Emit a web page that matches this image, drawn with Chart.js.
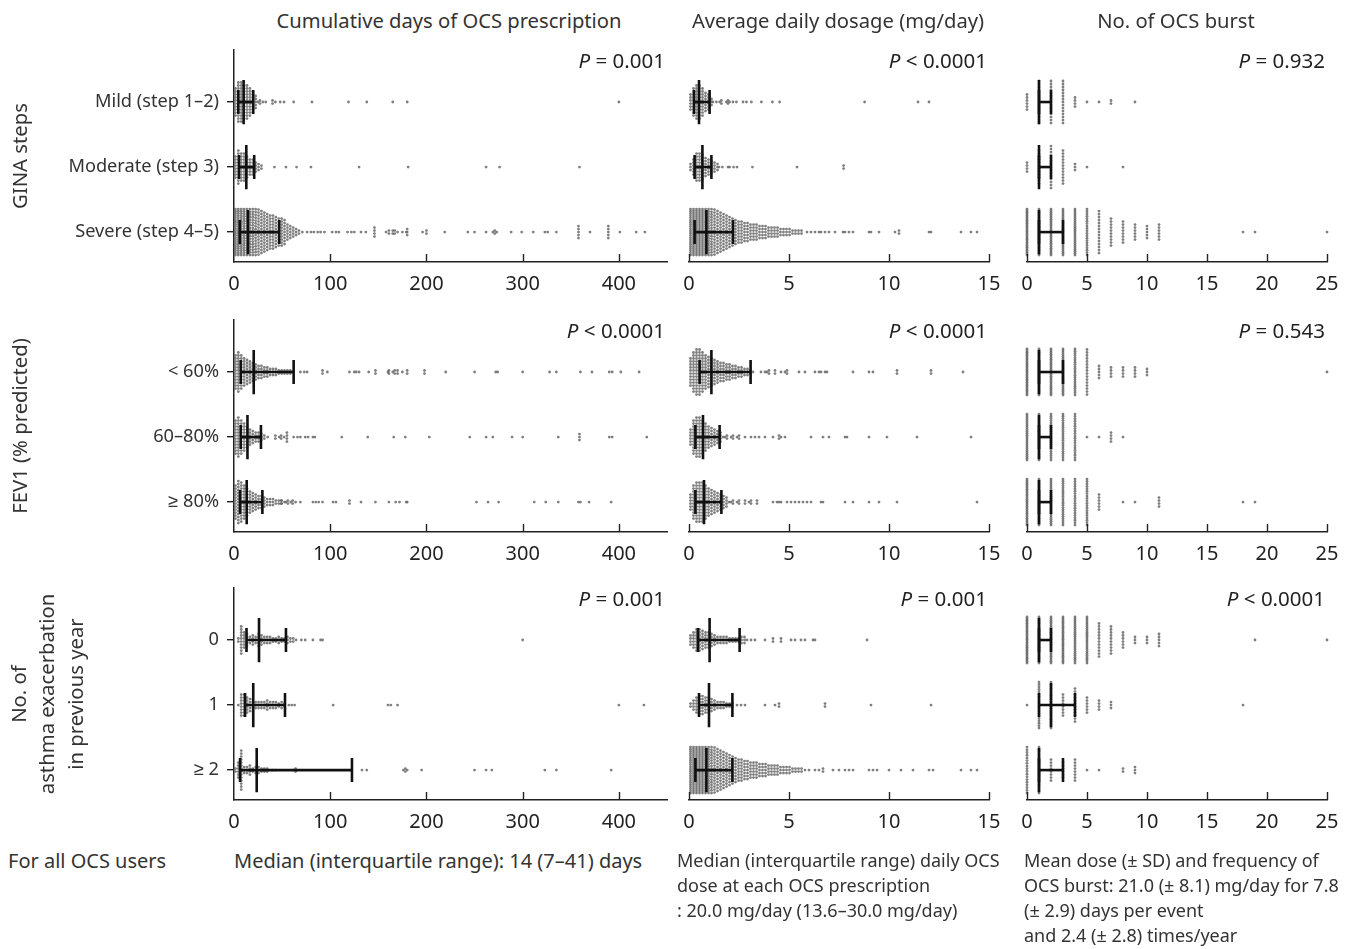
<!DOCTYPE html>
<html>
<head>
<meta charset="utf-8">
<script src="https://cdn.jsdelivr.net/npm/chart.js@4.4.0/dist/chart.umd.min.js"></script>
<style>
  body { margin: 0; background: #fff; }
  #page { position: relative; width: 1353px; height: 949px; overflow: hidden; font-family: "Noto Sans", sans-serif; color: #333; }
  #page canvas { position: absolute; }
  .txt { position: absolute; white-space: nowrap; }
  .ctitle { font-size: 20.2px; top: 6px; transform: translateX(-50%); }
  .foot { line-height: 25px; top: 848px; }
</style>
</head>
<body>
<div id="page"></div>
<script>
// labels
const rowNames = [
  ['Mild (step 1–2)', 'Moderate (step 3)', 'Severe (step 4–5)'],
  ['< 60%', '60–80%', '≥ 80%'],
  ['0', '1', '≥ 2']
];
const rowTitles = ['GINA steps', 'FEV1 (% predicted)', ['No. of', 'asthma exacerbation', 'in previous year']];
const colTitles = ['Cumulative days of OCS prescription', 'Average daily dosage (mg/day)', 'No. of OCS burst'];
const pValues = [
  ['= 0.001', '< 0.0001', '= 0.932'],
  ['< 0.0001', '< 0.0001', '= 0.543'],
  ['= 0.001', '= 0.001', '< 0.0001']
];
const dayTicks = [0, 100, 200, 300, 400];
const doseTicks = [0, 5, 10, 15];
const burstTicks = [0, 5, 10, 15, 20, 25];

// cumulative days: core = counts per 3-day bin from 0, tail = single patients
const ginaDaysCore = [
  [10, 14, 14, 12, 12, 10, 8, 5],
  [8, 12, 10, 10, 8, 6, 6, 4, 3, 2],
  [22, 22, 22, 20, 20, 18, 18, 17, 16, 15, 14, 13, 12, 12, 11, 10, 10, 9, 6, 5, 4, 3, 2]
];
const ginaDaysTail = [
  [25, 27, 28, 30, 33, 40, 41, 43, 48, 52, 62, 81, 119, 138, 165, 180, 400],
  [42, 54, 65, 80, 130, 181, 262, 276, 359],
  [71, 76, 80, 83, 87, 90, 94, 102, 106, 109, 118, 122, 125, 132, 137, 146, 146, 146, 148, 158, 161, 163, 165, 165, 167, 168, 170, 175, 179, 180, 180, 182, 196, 200, 201, 219, 243, 250, 262, 269, 271, 271, 273, 288, 299, 311, 323, 326, 335, 358, 358, 358, 358, 358, 370, 389, 389, 389, 389, 389, 401, 418, 427]
];
const ginaDaysStats = [[4.5, 10, 20], [5.2, 12.8, 21], [6, 14.5, 47]];

const fevDaysCore = [
  [12, 14, 12, 10, 9, 8, 7, 6, 5, 5, 4, 4, 3, 3, 3, 2, 2, 2, 2, 2, 1],
  [12, 14, 12, 10, 8, 6, 5, 4, 4, 3, 2],
  [12, 15, 14, 12, 10, 8, 7, 6, 5, 5, 4, 3, 3, 3, 2, 2, 2, 1]
];
const fevDaysTail = [
  [69, 73, 76, 92, 95, 97, 120, 125, 127, 130, 140, 147, 148, 160, 161, 163, 165, 167, 168, 170, 172, 175, 180, 182, 198, 200, 220, 250, 272, 274, 300, 328, 335, 360, 372, 390, 393, 402, 421],
  [35, 43, 45, 47, 49, 50, 52, 55, 55, 55, 55, 62, 66, 69, 74, 77, 82, 84, 112, 139, 166, 178, 203, 245, 262, 269, 289, 300, 337, 359, 359, 359, 390, 393, 429],
  [49, 50, 54, 56, 57, 59, 61, 62, 64, 69, 82, 85, 88, 92, 103, 106, 120, 123, 132, 147, 161, 168, 172, 179, 180, 252, 264, 275, 312, 324, 337, 358, 360, 369, 392]
];
const fevDaysStats = [[7, 20.5, 62], [7, 14, 28], [6.3, 13.2, 29.5]];

const exacDaysCore = [
  [0, 2, 10, 6, 5, 3, 4, 3, 5, 4, 3, 3, 3, 2, 2, 3, 2, 2, 3, 2, 2, 1],
  [0, 1, 8, 8, 6, 5, 5, 3, 3, 3, 3, 4, 3, 3, 3, 2, 3, 2],
  [2, 6, 14, 3, 3, 4, 2, 3, 3, 2, 2, 2]
];
const exacDaysTail = [
  [70, 74, 82, 90, 92, 300],
  [57, 60, 63, 103, 160, 163, 170, 400, 426],
  [40, 43, 62, 64, 66, 133, 138, 176, 178, 178, 180, 195, 250, 262, 268, 323, 335, 392]
];
const exacDaysStats = [[13, 26, 54], [11.5, 20, 53], [6.3, 23.6, 122.6]];

// daily dose: core = counts per 0.15 mg/day bin from 0
const ginaDoseCore = [
  [6, 10, 12, 12, 10, 7, 6, 3],
  [3, 6, 10, 10, 9, 7, 6, 5, 4, 3],
  [22, 24, 24, 24, 24, 22, 20, 18, 16, 15, 14, 13, 12, 11, 10, 9, 8, 8, 7, 7, 6, 6, 6, 5, 5, 5, 4, 4, 4, 4, 3, 3, 3, 3, 2, 2, 2, 2]
];
const ginaDoseTail = [
  [1.2, 1.37, 1.53, 1.62, 1.7, 1.87, 1.95, 1.95, 2.03, 2.2, 2.37, 2.7, 2.87, 3.12, 3.62, 4.17, 4.53, 8.78, 11.45, 12.0],
  [1.5, 1.67, 1.95, 2.03, 2.23, 2.4, 3.17, 5.4, 7.73, 7.73],
  [5.9, 6.1, 6.3, 6.5, 6.6, 6.8, 7.0, 7.3, 7.7, 7.8, 8.0, 8.2, 9.0, 9.1, 9.5, 10.3, 10.5, 10.5, 12.0, 12.1, 13.6, 14.1, 14.4]
];
const ginaDoseStats = [[0.25, 0.5, 1.03], [0.28, 0.67, 1.12], [0.28, 0.87, 2.2]];

const fevDoseCore = [
  [10, 14, 16, 16, 14, 12, 11, 10, 9, 8, 7, 7, 6, 6, 5, 5, 4, 4, 3, 3, 2],
  [6, 12, 14, 14, 12, 10, 8, 7, 6, 5, 4],
  [6, 12, 14, 14, 14, 12, 10, 9, 8, 7, 6, 5, 4]
];
const fevDoseTail = [
  [3.2, 3.6, 3.8, 3.9, 4.0, 4.1, 4.3, 4.4, 4.6, 4.8, 4.9, 5.0, 5.5, 5.8, 6.3, 6.5, 6.6, 6.8, 6.9, 8.2, 9.0, 9.2, 10.4, 10.4, 12.1, 12.2, 13.7],
  [1.7, 1.8, 1.9, 2.0, 2.1, 2.2, 2.3, 2.4, 2.5, 2.6, 2.8, 3.1, 3.3, 3.5, 3.8, 4.2, 4.5, 4.5, 4.6, 4.8, 6.1, 6.7, 7.0, 7.8, 7.9, 9.0, 9.9, 11.4, 14.1],
  [2.0, 2.1, 2.2, 2.3, 2.4, 2.5, 2.6, 2.8, 2.9, 3.0, 3.1, 3.2, 3.4, 3.5, 4.2, 4.4, 4.5, 4.6, 4.9, 5.1, 5.3, 5.5, 5.7, 5.9, 6.1, 6.6, 6.7, 7.8, 8.2, 9.0, 9.5, 10.4, 14.4]
];
const fevDoseStats = [[0.53, 1.12, 3.08], [0.32, 0.7, 1.53], [0.32, 0.75, 1.62]];

const exacDoseCore = [
  [4, 6, 8, 8, 7, 6, 6, 5, 4, 3, 3, 3, 3, 2, 2, 2, 2, 3, 3],
  [2, 4, 6, 7, 7, 6, 6, 5, 4, 3, 3, 3, 2, 2, 2],
  [22, 24, 24, 24, 24, 22, 20, 18, 16, 15, 14, 13, 12, 11, 10, 9, 8, 8, 7, 7, 6, 6, 6, 5, 5, 5, 4, 4, 4, 4, 3, 3, 3, 3, 2, 2, 2, 2]
];
const exacDoseTail = [
  [2.9, 3.1, 3.3, 3.8, 4.2, 4.2, 4.6, 4.6, 5.1, 5.3, 5.6, 5.8, 6.2, 6.3, 8.9],
  [2.4, 2.6, 2.8, 3.8, 4.3, 4.5, 4.5, 6.8, 6.8, 9.1, 12.1],
  [5.8, 6.0, 6.3, 6.5, 6.7, 6.8, 7.2, 7.5, 7.8, 8.0, 8.2, 9.0, 9.2, 9.4, 10.0, 10.6, 11.2, 12.0, 12.2, 13.6, 14.1, 14.4]
];
const exacDoseStats = [[0.45, 1.03, 2.53], [0.5, 1.0, 2.17], [0.32, 0.87, 2.17]];

// OCS bursts: patients per number of bursts (index = bursts)
const ginaBurstCounts = [
  [6, 15, 15, 15, 4, 1, 1, 2, 0, 1],
  [4, 12, 15, 12, 3, 1, 0, 0, 1],
  [30, 30, 28, 26, 25, 20, 15, 10, 8, 6, 5, 6, 0, 0, 0, 0, 0, 0, 1, 1, 0, 0, 0, 0, 0, 1]
];
const ginaBurstStats = [[1, 1, 2], [1, 1, 2], [1, 1, 3]];
const fevBurstCounts = [
  [30, 30, 28, 26, 22, 16, 5, 4, 4, 4, 3, 0, 0, 0, 0, 0, 0, 0, 0, 0, 0, 0, 0, 0, 0, 1],
  [25, 25, 22, 22, 20, 1, 1, 4, 1],
  [28, 28, 25, 22, 20, 20, 6, 0, 1, 1, 0, 4, 0, 0, 0, 0, 0, 0, 1, 1]
];
const fevBurstStats = [[1, 1, 3], [1, 1, 2], [1, 1, 2]];
const exacBurstCounts = [
  [30, 30, 28, 28, 25, 25, 12, 10, 6, 3, 3, 5, 0, 0, 0, 0, 0, 0, 0, 1, 0, 0, 0, 0, 0, 1],
  [1, 20, 22, 8, 12, 6, 4, 3, 0, 0, 0, 0, 0, 0, 0, 0, 0, 0, 1],
  [18, 22, 8, 6, 8, 1, 1, 0, 2, 3]
];
const exacBurstStats = [[1, 1, 2], [1, 2, 4], [1, 1, 3]];

const footTexts = [
  { left: 8, size: 20, lines: ['For all OCS users'] },
  { left: 234, size: 20, lines: ['Median (interquartile range): 14 (7–41) days'] },
  { left: 677, size: 18, lines: ['Median (interquartile range) daily OCS', 'dose at each OCS prescription', ': 20.0 mg/day (13.6–30.0 mg/day)'] },
  { left: 1024, size: 18, lines: ['Mean dose (± SD) and frequency of', 'OCS burst: 21.0 (± 8.1) mg/day for 7.8', '(± 2.9) days per event', 'and 2.4 (± 2.8) times/year'] }
];

// ---- layout ----
const FONT = '"Noto Sans", sans-serif';
const page = document.getElementById('page');
const rowTop = [50, 320, 588];
const colBox = [
  { left: 0, width: 690, yWidth: 234, padR: 23, max: 450, ticks: dayTicks, binW: 3, px: 0.9625 },
  { left: 670, width: 340, yWidth: 19, padR: 21, max: 15, ticks: doseTicks, binW: 0.15, px: 20 },
  { left: 1008, width: 345, yWidth: 19, padR: 26, max: 25, ticks: burstTicks, binW: 1, px: 12 }
];
const cores = [[ginaDaysCore, ginaDoseCore, ginaBurstCounts], [fevDaysCore, fevDoseCore, fevBurstCounts], [exacDaysCore, exacDoseCore, exacBurstCounts]];
const tails = [[ginaDaysTail, ginaDoseTail, null], [fevDaysTail, fevDoseTail, null], [exacDaysTail, exacDoseTail, null]];
const stats = [[ginaDaysStats, ginaDoseStats, ginaBurstStats], [fevDaysStats, fevDoseStats, fevBurstStats], [exacDaysStats, exacDoseStats, exacBurstStats]];

const ROW_PX = 65;      // pixels between categories
const DOT_STEP = 3;     // vertical spacing of stacked dots
const MAX_SPAN = 46;    // tallest stack in px

// turn core counts + tail values into stacks, then dots
function buildDots(core, tail, binW, px, isCount, row) {
  const stacks = [];
  core.forEach((n, i) => { if (n) stacks.push({ x: isCount ? i : (i + 0.5) * binW, n: n }); });
  if (tail) {
    const groups = {};
    tail.forEach(v => {
      const k = Math.round(v * px / 3);
      if (!groups[k]) groups[k] = [];
      groups[k].push(v);
    });
    Object.values(groups).forEach(g => stacks.push({ x: g[0], n: g.length }));
  }
  const pts = [];
  stacks.forEach(s => {
    let step = DOT_STEP;
    if ((s.n - 1) * step > MAX_SPAN) step = MAX_SPAN / (s.n - 1);
    for (let i = 0; i < s.n; i++) {
      const off = (i - (s.n - 1) / 2) * step;
      pts.push({ x: s.x, y: row + off / ROW_PX });
    }
  });
  return pts;
}

function seg(a, b) {
  return { type: 'scatter', data: [a, b], showLine: true, borderColor: '#111', borderWidth: 2.6, pointRadius: 0, order: 0, clip: false };
}

const panelDeco = {
  id: 'panelDeco',
  afterDraw(chart, args, opts) {
    const { ctx, chartArea, scales } = chart;
    ctx.save();
    ctx.strokeStyle = '#222';
    ctx.lineWidth = 1.4;
    opts.ticks.forEach(v => {
      if (v === 0 && opts.yAxis) return;
      const px = Math.round(scales.x.getPixelForValue(v)) + 0.5;
      ctx.beginPath();
      ctx.moveTo(px, chartArea.bottom);
      ctx.lineTo(px, chartArea.bottom - 8);
      ctx.stroke();
    });
    const y = chartArea.top + 12;
    const rest = ' ' + opts.p;
    ctx.fillStyle = '#222';
    ctx.textBaseline = 'middle';
    ctx.textAlign = 'right';
    ctx.font = '20.5px ' + FONT;
    ctx.fillText(rest, chartArea.right - 2, y);
    const w = ctx.measureText(rest).width;
    ctx.font = 'italic 20.5px ' + FONT;
    ctx.fillText('P', chartArea.right - 2 - w, y);
    ctx.restore();
  }
};

function makePanel(r, c) {
  const box = colBox[c];
  const H = 10 + 212 + 40;
  const canvas = document.createElement('canvas');
  canvas.width = box.width;
  canvas.height = H;
  canvas.style.left = box.left + 'px';
  canvas.style.top = (rowTop[r] - 10) + 'px';
  page.appendChild(canvas);

  const datasets = [];
  for (let g = 0; g < 3; g++) {
    const st = stats[r][c][g];
    const q1 = st[0], med = st[1], q3 = st[2];
    datasets.push(seg({ x: q1, y: g }, { x: q3, y: g }));
    datasets.push(seg({ x: med, y: g - 0.34 }, { x: med, y: g + 0.34 }));
    datasets.push(seg({ x: q1, y: g - 0.185 }, { x: q1, y: g + 0.185 }));
    datasets.push(seg({ x: q3, y: g - 0.185 }, { x: q3, y: g + 0.185 }));
  }
  for (let g = 0; g < 3; g++) {
    const tail = tails[r][c] ? tails[r][c][g] : null;
    datasets.push({
      type: 'scatter',
      data: buildDots(cores[r][c][g], tail, box.binW, box.px, c === 2, g),
      pointRadius: 1.4,
      pointBorderWidth: 0,
      pointBackgroundColor: 'rgba(95,95,95,0.8)',
      order: 1,
      clip: false
    });
  }

  const title = rowTitles[r];
  const multi = Array.isArray(title);
  new Chart(canvas, {
    type: 'scatter',
    data: { datasets: datasets },
    options: {
      responsive: false,
      animation: false,
      events: [],
      layout: { padding: { left: 0, right: box.padR, top: 10, bottom: 0 } },
      plugins: {
        legend: { display: false },
        tooltip: { enabled: false },
        panelDeco: { ticks: box.ticks, p: pValues[r][c], yAxis: c === 0 }
      },
      scales: {
        x: {
          type: 'linear', min: 0, max: box.max,
          afterBuildTicks: s => { s.ticks = box.ticks.map(v => ({ value: v })); },
          afterFit: s => { s.height = 40; s.paddingLeft = 0; s.paddingRight = 0; },
          grid: { display: false, drawTicks: false },
          border: { display: true, color: '#222', width: 1.5 },
          ticks: { padding: 10, color: '#222', font: { size: 20, family: FONT } }
        },
        y: {
          type: 'linear', reverse: true, min: -0.8, max: 2.46,
          display: c === 0,
          afterBuildTicks: s => { s.ticks = [0, 1, 2].map(v => ({ value: v })); },
          afterFit: s => { s.width = box.yWidth; s.paddingTop = 0; s.paddingBottom = 0; },
          grid: { display: true, drawOnChartArea: false, drawTicks: true, tickLength: 7, color: '#222', lineWidth: 1.4 },
          border: { display: true, color: '#222', width: 1.5 },
          ticks: { padding: 8, color: '#333', font: { size: 18.2, family: FONT }, callback: v => rowNames[r][v] },
          title: {
            display: true, text: title, color: '#333',
            font: { size: 20.3, family: FONT, lineHeight: multi ? 1.4 : 1.2 },
            padding: { top: multi ? 6 : 9, bottom: 0 }
          }
        }
      }
    },
    plugins: [panelDeco]
  });
}

for (let r = 0; r < 3; r++) for (let c = 0; c < 3; c++) makePanel(r, c);

[449, 838, 1176].forEach((cx, i) => {
  const d = document.createElement('div');
  d.className = 'txt ctitle';
  d.style.left = cx + 'px';
  d.textContent = colTitles[i];
  page.appendChild(d);
});
footTexts.forEach(f => {
  const d = document.createElement('div');
  d.className = 'txt foot';
  d.style.left = f.left + 'px';
  d.style.fontSize = f.size + 'px';
  d.innerHTML = f.lines.join('<br>');
  page.appendChild(d);
});
</script>
</body>
</html>
